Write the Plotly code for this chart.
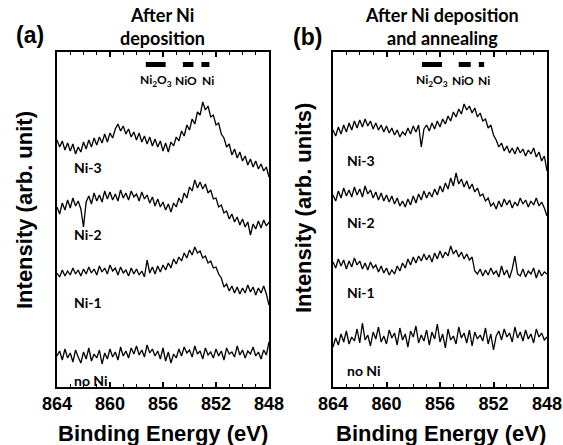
import plotly.graph_objects as go

energy = [864.0, 863.8, 863.6, 863.4, 863.2, 863.0, 862.8, 862.6, 862.4, 862.2,
          862.0, 861.8, 861.6, 861.4, 861.2, 861.0, 860.8, 860.6, 860.4, 860.2,
          860.0, 859.8, 859.6, 859.4, 859.2, 859.0, 858.8, 858.6, 858.4, 858.2,
          858.0, 857.8, 857.6, 857.4, 857.2, 857.0, 856.8, 856.6, 856.4, 856.2,
          856.0, 855.8, 855.6, 855.4, 855.2, 855.0, 854.8, 854.6, 854.4, 854.2,
          854.0, 853.8, 853.6, 853.4, 853.2, 853.0, 852.8, 852.6, 852.4, 852.2,
          852.0, 851.8, 851.6, 851.4, 851.2, 851.0, 850.8, 850.6, 850.4, 850.2,
          850.0, 849.8, 849.6, 849.4, 849.2, 849.0, 848.8, 848.6, 848.4, 848.2,
          848.0]

# Panel (a): after Ni deposition
a_ni3 = [247, 240, 246, 237, 244, 236, 243, 233, 240, 235,
         245, 238, 247, 240, 249, 242, 250, 244, 253, 245,
         254, 249, 258, 263, 256, 261, 253, 258, 250, 255,
         247, 254, 245, 251, 243, 250, 241, 248, 240, 246,
         236, 244, 235, 245, 241, 250, 246, 256, 251, 262,
         257, 268, 263, 275, 272, 285, 277, 281, 270, 272,
         262, 264, 253, 249, 240, 243, 232, 238, 229, 235,
         226, 231, 222, 228, 220, 226, 218, 223, 216, 220,
         210]
a_ni2 = [180, 173, 184, 177, 187, 179, 189, 181, 186, 178,
         160, 185, 191, 183, 194, 186, 192, 185, 196, 188,
         195, 187, 193, 186, 197, 189, 194, 187, 196, 190,
         193, 186, 195, 188, 192, 184, 190, 181, 188, 180,
         185, 177, 183, 175, 184, 180, 189, 184, 194, 189,
         200, 196, 207, 199, 205, 198, 203, 194, 197, 188,
         189, 180, 182, 174, 176, 168, 173, 165, 170, 162,
         168, 160, 165, 152, 163, 158, 166, 159, 167, 161,
         165]
a_ni1 = [114, 110, 117, 111, 116, 112, 119, 113, 117, 111,
         118, 113, 120, 114, 118, 112, 121, 115, 119, 113,
         122, 116, 119, 112, 120, 114, 117, 111, 119, 113,
         118, 112, 116, 110, 127, 114, 120, 113, 121, 115,
         122, 117, 124, 119, 128, 123, 130, 126, 134, 129,
         137, 132, 140, 134, 136, 129, 131, 124, 126, 119,
         120, 113, 109, 100, 103, 96, 101, 94, 100, 93,
         99, 94, 102, 95, 100, 92, 99, 94, 101, 93,
         82]
a_noni = [31, 36, 27, 38, 29, 34, 25, 37, 30, 24,
          35, 28, 39, 26, 33, 29, 37, 23, 34, 28,
          38, 30, 35, 27, 40, 31, 36, 29, 39, 33,
          41, 32, 37, 30, 42, 34, 38, 31, 36, 28,
          39, 26, 35, 24, 33, 29, 38, 31, 40, 34,
          37, 30, 41, 33, 36, 28, 39, 32, 35, 29,
          38, 31, 36, 27, 39, 33, 35, 30, 41, 32,
          37, 29, 36, 33, 40, 31, 35, 28, 37, 32,
          45]

# Panel (b): after Ni deposition and annealing
b_ni3 = [257, 251, 260, 253, 262, 255, 264, 257, 266, 259,
         267, 260, 268, 261, 266, 258, 264, 257, 262, 255,
         261, 254, 259, 252, 257, 250, 255, 252, 259, 253,
         261, 255, 262, 240, 258, 262, 256, 264, 258, 266,
         260, 268, 263, 271, 266, 275, 270, 278, 273, 283,
         277, 281, 274, 279, 270, 274, 266, 268, 259, 262,
         252, 247, 240, 244, 236, 241, 234, 239, 233, 240,
         234, 238, 231, 237, 233, 239, 230, 235, 226, 231,
         216]
b_ni2 = [192, 186, 196, 189, 199, 191, 197, 190, 200, 192,
         198, 190, 201, 193, 197, 189, 195, 187, 194, 186,
         192, 185, 191, 183, 189, 181, 186, 180, 188, 182,
         191, 184, 193, 187, 196, 189, 195, 190, 198, 192,
         201, 195, 204, 198, 209, 201, 214, 203, 208, 200,
         206, 198, 203, 195, 199, 191, 193, 186, 189, 181,
         184, 178, 186, 180, 188, 182, 187, 179, 185, 181,
         189, 183, 187, 180, 186, 182, 189, 181, 185, 179,
         171]
b_ni1 = [125, 119, 128, 121, 127, 118, 126, 120, 129, 122,
         126, 118, 124, 117, 125, 119, 122, 115, 121, 114,
         119, 112, 117, 113, 121, 116, 124, 119, 128, 122,
         130, 124, 131, 126, 133, 127, 132, 125, 134, 128,
         136, 129, 135, 131, 141, 133, 137, 130, 135, 128,
         133, 127, 130, 116, 113, 118, 111, 117, 112, 119,
         113, 116, 110, 121, 112, 117, 109, 118, 131, 113,
         111, 118, 110, 116, 113, 119, 109, 117, 111, 115,
         113]
b_noni = [40, 49, 42, 53, 45, 56, 43, 50, 46, 58,
          44, 64, 47, 52, 41, 55, 48, 60, 45, 51,
          43, 57, 49, 54, 42, 59, 47, 53, 40, 56,
          50, 61, 44, 52, 46, 57, 42, 55, 48, 63,
          45, 53, 39, 58, 47, 51, 43, 60, 49, 54,
          44, 57, 41, 55, 48, 52, 46, 59, 43, 53,
          37, 51, 56, 47, 58, 50, 54, 45, 60, 49,
          55, 46, 57, 48, 53, 44, 58, 50, 54, 47,
          50]

series_names = ["Ni-3", "Ni-2", "Ni-1", "no Ni"]
panel_a = [a_ni3, a_ni2, a_ni1, a_noni]
panel_b = [b_ni3, b_ni2, b_ni1, b_noni]

# Reference bars (eV ranges) and where their labels sit (eV)
ref_names = ["Ni<sub>2</sub>O<sub>3</sub>", "NiO", "Ni"]
ref_a = [(857.3, 855.8), (854.5, 853.7), (853.1, 852.5)]
ref_b = [(857.35, 855.85), (854.6, 853.7), (853.1, 852.7)]
ref_label_a = [856.55, 854.25, 852.6]
ref_label_b = [856.6, 854.3, 852.7]

xtick_vals = [864, 860, 856, 852, 848]
xtick_text = ["864", "860", "856", "852", "848"]

W, H = 563, 445


def px(x):
    return x / W


def py(y):
    return 1 - y / H


fig = go.Figure()
for s in panel_a:
    fig.add_trace(go.Scatter(x=energy, y=s, mode="lines", line=dict(color="black", width=1.3),
                             xaxis="x", yaxis="y", showlegend=False, hoverinfo="skip"))
for s in panel_b:
    fig.add_trace(go.Scatter(x=energy, y=s, mode="lines", line=dict(color="black", width=1.3),
                             xaxis="x2", yaxis="y2", showlegend=False, hoverinfo="skip"))

tick_font = dict(family="Liberation Sans, Arial", size=18, color="black")
xcommon = dict(range=[864, 848], tickvals=xtick_vals, ticktext=["<b>%s</b>" % t for t in xtick_text],
               ticks="inside", ticklen=5, tickwidth=1.5, automargin=False,
               showline=True, linecolor="black", linewidth=1.5, mirror="ticks", showgrid=False,
               zeroline=False, tickfont=tick_font,
               minor=dict(dtick=1, ticks="inside", ticklen=3, tickwidth=1, tickcolor="black", showgrid=False),
               tickcolor="black")
ycommon = dict(range=[0, 335], showticklabels=False, ticks="", showline=True, linecolor="black",
               linewidth=1.5, mirror=True, showgrid=False, zeroline=False, automargin=False)

fig.update_layout(
    width=W, height=H, margin=dict(l=0, r=0, t=0, b=0, autoexpand=False),
    plot_bgcolor="white", paper_bgcolor="white",
    xaxis=dict(domain=[px(57), px(269)], anchor="y", **xcommon),
    yaxis=dict(domain=[py(387), py(52)], anchor="x", **ycommon),
    xaxis2=dict(domain=[px(333), px(547)], anchor="y2", **xcommon),
    yaxis2=dict(domain=[py(387), py(52)], anchor="x2", **ycommon),
)

shapes = []
ann = []
lab_font = dict(family="Lato, Open Sans", size=14, color="black")
for (xa, ya, refs, labx) in [("x", "y", ref_a, ref_label_a), ("x2", "y2", ref_b, ref_label_b)]:
    for (e1, e2), name, lx in zip(refs, ref_names, labx):
        shapes.append(dict(type="rect", xref=xa, yref=ya, x0=e1, x1=e2, y0=320, y1=325,
                           fillcolor="black", line=dict(width=0)))
        ann.append(dict(xref=xa, yref=ya, x=lx, y=307, text="<b>%s</b>" % name, showarrow=False,
                        xanchor="center", yanchor="middle", borderpad=0,
                        font=dict(family="Lato, Open Sans", size=12, color="black")))

# spectrum labels
for (x0, ys) in [(72, [167, 235, 302, 380]), (345, [160, 222, 292, 370])]:
    for name, yy in zip(series_names, ys):
        ann.append(dict(xref="paper", yref="paper", x=px(x0), y=py(yy), xanchor="left", yanchor="middle",
                        text="<b>%s</b>" % name, showarrow=False, font=lab_font))

title_font = dict(family="Lato, Open Sans", size=18, color="black")
big_font = dict(family="Liberation Sans, Arial", size=23, color="black")
label_font = dict(family="Liberation Sans, Arial", size=22, color="black")


def placed(x, y, text, font, angle=0, yanchor="middle"):
    return dict(xref="paper", yref="paper", x=px(x), y=py(y), text=text, showarrow=False, font=font,
                xanchor="center", yanchor=yanchor, align="center", textangle=angle, borderpad=0)


ann += [
    placed(162, 27, "<b>After Ni</b>", title_font, yanchor="bottom"),
    placed(162, 26, "<b>deposition</b>", title_font, yanchor="top"),
    placed(442, 27, "<b>After Ni deposition</b>", title_font, yanchor="bottom"),
    placed(442, 26, "<b>and annealing</b>", title_font, yanchor="top"),
    placed(30, 35, "<b>(a)</b>", big_font),
    placed(307, 37, "<b>(b)</b>", big_font),
    placed(24, 210, "<b>Intensity (arb. unit)</b>", label_font, -90),
    placed(303, 208, "<b>Intensity (arb. units)</b>", label_font, -90),
    placed(163, 433, "<b>Binding Energy (eV)</b>", label_font),
    placed(441, 433, "<b>Binding Energy (eV)</b>", label_font),
]

fig.update_layout(shapes=shapes, annotations=ann)
fig.write_html("out.html", config={"displayModeBar": False},
               post_script="document.body.style.margin='0px';")
